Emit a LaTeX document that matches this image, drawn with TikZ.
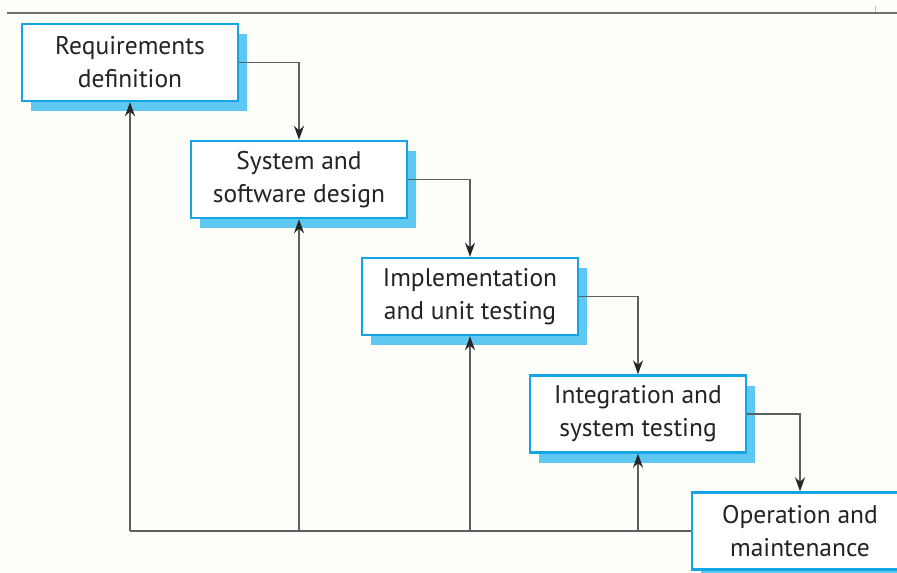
\documentclass[tikz,border=0pt]{standalone}
\usepackage{fontspec}
\setmainfont{PT Sans}
\usetikzlibrary{arrows.meta,shadows}
\definecolor{boxblue}{RGB}{20,165,230}
\definecolor{shadowblue}{RGB}{95,200,240}
\definecolor{linegray}{RGB}{95,95,95}
\definecolor{txt}{RGB}{35,35,35}
\definecolor{bg}{RGB}{253,253,249}
\begin{document}
\begin{tikzpicture}[x=1pt,y=-1pt,
  stage/.style={draw=boxblue, line width=2.4pt, fill=white, minimum width=216pt, minimum height=77pt,
    align=center, font=\fontsize{25.5}{33}\selectfont, text=txt, inner sep=0pt,
    drop shadow={shadow xshift=9pt, shadow yshift=-10pt, fill=shadowblue, opacity=1}},
  flow/.style={draw=linegray, line width=1.3pt, -{Stealth[length=14pt,width=10pt,color=black!85]}},
  back/.style={draw=linegray, line width=1.3pt}
]
\fill[bg] (0,0) rectangle (897,573);
\clip (0,0) rectangle (897,573);
\useasboundingbox (0,0) rectangle (897,573);
\draw[draw=linegray!90, line width=2pt] (7,12.5) -- (897,12.5);
\draw[draw=gray!50, line width=1pt] (875,6) -- (875,12);

\node[stage] (req) at (130,62.5) {Requirements\\definition};
\node[stage] (sys) at (299,179.5) {System and\\software design};
\node[stage] (imp) at (470,296.5) {Implementation\\and unit testing};
\node[stage] (int) at (638,414) {Integration and\\system testing};
\node[stage] (op) at (800,531) {Operation and\\maintenance};

\draw[flow] (req.east) -| (sys.north);
\draw[flow] (sys.east) -| (imp.north);
\draw[flow] (imp.east) -| (int.north);
\draw[flow] (int.east) -| (op.north);

\draw[back] (op.west) -- (req.south |- op.west);
\draw[flow] (req.south |- op.west) -- (req.south);
\draw[flow] (sys.south |- op.west) -- (sys.south);
\draw[flow] (imp.south |- op.west) -- (imp.south);
\draw[flow] (int.south |- op.west) -- (int.south);
\end{tikzpicture}
\end{document}
